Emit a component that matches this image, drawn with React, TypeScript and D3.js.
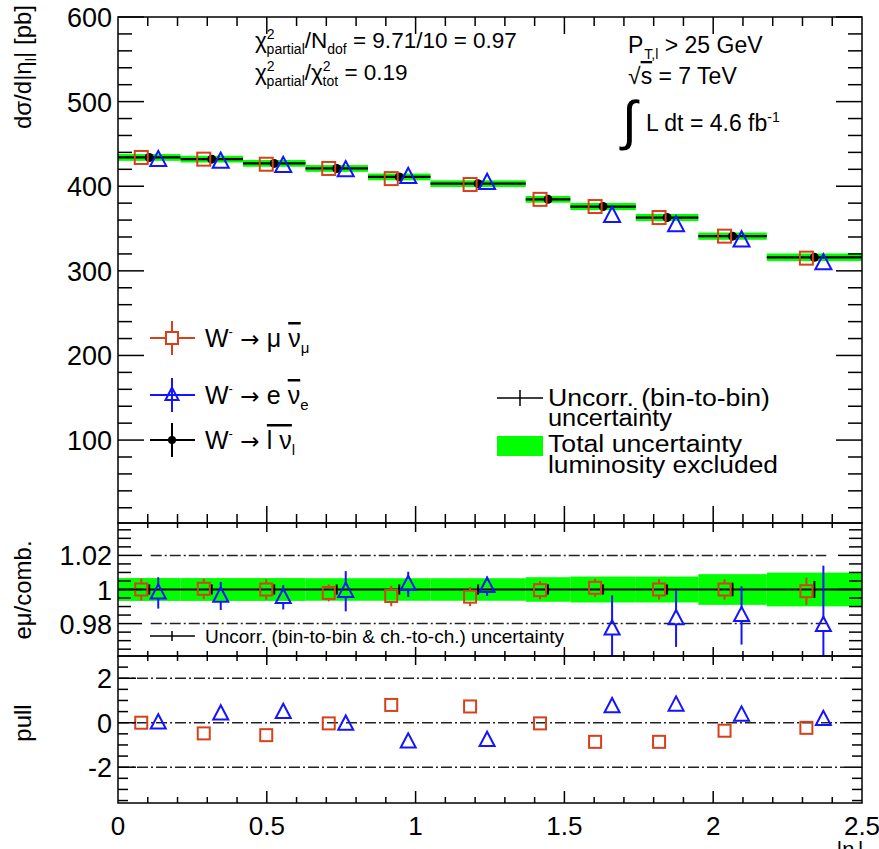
import React from 'react';
import * as d3 from 'd3';

// |eta_l| bin edges (ATLAS W- differential cross section)
const binEdges = [0, 0.21, 0.42, 0.63, 0.84, 1.05, 1.37, 1.52, 1.74, 1.95, 2.18, 2.5];

// dsigma/d|eta| [pb]
const combXsec = [434, 432, 427, 421, 411, 403, 384.5, 376, 363, 341, 316];
const muonXsec = [434, 432, 426, 421, 409, 402, 384.5, 376, 363, 341, 315];
const elecXsec = [431, 429, 424, 419, 411, 404, null, 365, 354, 336, 309];
const combTotalUnc = [4, 4, 4, 4, 4, 4, 4, 4.2, 4.2, 4.3, 4.5];

// ratio panel (channel / combined)
const ratioBand = [0.0067, 0.0067, 0.0067, 0.0066, 0.0066, 0.0066, 0.0072, 0.0076, 0.0076, 0.009, 0.0099];
const ratioUncorr = [0.003, 0.003, 0.003, 0.003, 0.003, 0.003, 0.003, 0.003, 0.003, 0.004, 0.005];
const muonRatio = [1.0, 1.0004, 1.0, 0.998, 0.9962, 0.9958, 0.9996, 1.001, 1.0, 1.0, 0.999];
const muonRatioErr = [0.0065, 0.006, 0.006, 0.005, 0.006, 0.0056, 0.0054, 0.0053, 0.006, 0.006, 0.008];
const elecRatio = [0.998, 0.9962, 0.9954, 0.999, 1.003, 1.0019, null, 0.977, 0.983, 0.9848, 0.979];
const elecRatioErr = [0.0092, 0.0082, 0.0071, 0.0118, 0.0074, 0.0057, null, 0.0196, 0.0167, 0.0171, 0.035];

// pulls
const muonPull = [0.0, -0.48, -0.56, -0.03, 0.8, 0.73, -0.03, -0.86, -0.86, -0.36, -0.23];
const elecPull = [0.0, 0.4, 0.47, -0.06, -0.86, -0.79, null, 0.73, 0.8, 0.35, 0.15];

// axis tick labels
const topYLabels = [100, 200, 300, 400, 500, 600];
const ratioYLabels = [0.98, 1, 1.02];
const pullYLabels = [-2, 0, 2];
const xLabels = [0, 0.5, 1, 1.5, 2, 2.5];

const FONT = '"Liberation Sans", Arial, Helvetica, sans-serif';
const ARROW_FONT = '"DejaVu Sans", sans-serif';
const MU = '#d6401a';
const EL = '#1414ff';
const GREEN = '#00ff00';
const DASH = '11,3,2,3';

const X0 = 118, X1 = 862;
const TOP0 = 17, TOP1 = 523, RAT1 = 656, PUL1 = 803;

const x = d3.scaleLinear().domain([0, 2.5]).range([X0, X1]);
const yTop = d3.scaleLinear().domain([2, 600]).range([TOP1, TOP0]);
const yRat = d3.scaleLinear().domain([0.961, 1.039]).range([RAT1, TOP1]);
const yPull = d3.scaleLinear().domain([-3.61, 3]).range([PUL1, RAT1]);

const MU_DX = -8, EL_DX = 9;

const bins = binEdges.slice(0, -1).map((lo, i) => ({ i, lo, hi: binEdges[i + 1], c: (lo + binEdges[i + 1]) / 2 }));

function Square({ cx, cy, s, color }) {
  return <rect x={cx - s / 2} y={cy - s / 2} width={s} height={s} fill="none" stroke={color} strokeWidth={2} />;
}

function Triangle({ cx, cy, s, color }) {
  const h = s * 0.95;
  const pts = [[cx, cy - h * 0.6], [cx - s / 2, cy + h * 0.4], [cx + s / 2, cy + h * 0.4]];
  return <polygon points={pts.map(p => p.join(',')).join(' ')} fill="none" stroke={color} strokeWidth={2} />;
}

// vertical error bar that skips the marker body
function ErrBar({ cx, y1, y2, cy, gap, color }) {
  return (
    <g stroke={color} strokeWidth={2}>
      {y1 < cy - gap && <line x1={cx} x2={cx} y1={y1} y2={cy - gap} />}
      {y2 > cy + gap && <line x1={cx} x2={cx} y1={cy + gap} y2={y2} />}
    </g>
  );
}

function YTicks({ scale, values, isMajor, major, minor }) {
  return (
    <g stroke="#000" strokeWidth={1.5}>
      {values.map((v, k) => {
        const y = scale(v);
        const len = isMajor(v) ? major : minor;
        return (
          <g key={k}>
            <line x1={X0} x2={X0 + len} y1={y} y2={y} />
            <line x1={X1 - len} x2={X1} y1={y} y2={y} />
          </g>
        );
      })}
    </g>
  );
}

function XTicks({ y, dir, major, minor }) {
  const vals = d3.range(1, 25).map(i => i / 10);
  return (
    <g stroke="#000" strokeWidth={1.5}>
      {vals.map((v, k) => {
        const len = Math.abs(v * 2 - Math.round(v * 2)) < 1e-6 ? major : minor;
        return <line key={k} x1={x(v)} x2={x(v)} y1={y} y2={y + dir * len} />;
      })}
    </g>
  );
}

function Arrow() {
  return <tspan fontFamily={ARROW_FONT} fontSize={23}> → </tspan>;
}

export default function App() {
  const topMinor = d3.range(20, 601, 20);
  const ratMinor = d3.range(-7, 8).map(i => 1 + i * 0.005);
  const pullMinor = d3.range(-7, 6).map(i => i * 0.5);
  const sup = { fontSize: 14 };

  return (
    <svg width={879} height={849} viewBox="0 0 879 849" style={{ display: 'block', position: 'absolute', left: 0, top: 0, background: '#fff' }} fontFamily={FONT}>
      <rect width={879} height={849} fill="#fff" />
      <defs>
        <clipPath id="ratClip"><rect x={X0} y={TOP1} width={X1 - X0} height={RAT1 - TOP1} /></clipPath>
      </defs>

      {/* ---------- top panel ---------- */}
      {bins.map(b => (
        <rect key={'g' + b.i} x={x(b.lo)} width={x(b.hi) - x(b.lo)}
          y={yTop(combXsec[b.i] + combTotalUnc[b.i])}
          height={yTop(combXsec[b.i] - combTotalUnc[b.i]) - yTop(combXsec[b.i] + combTotalUnc[b.i])}
          fill={GREEN} />
      ))}
      {bins.map(b => (
        <line key={'l' + b.i} x1={x(b.lo)} x2={x(b.hi)} y1={yTop(combXsec[b.i])} y2={yTop(combXsec[b.i])} stroke="#000" strokeWidth={2.2} />
      ))}
      {bins.map(b => (
        <circle key={'c' + b.i} cx={x(b.c)} cy={yTop(combXsec[b.i])} r={4.5} fill="#000" />
      ))}
      {bins.map(b => <Square key={'m' + b.i} cx={x(b.c) + MU_DX} cy={yTop(muonXsec[b.i])} s={13} color={MU} />)}
      {bins.filter(b => elecXsec[b.i] != null).map(b => (
        <Triangle key={'e' + b.i} cx={x(b.c) + EL_DX} cy={yTop(elecXsec[b.i])} s={16} color={EL} />
      ))}

      <YTicks scale={yTop} values={topMinor} isMajor={v => v % 100 === 0} major={26} minor={14} />
      <XTicks y={TOP0} dir={1} major={17} minor={9} />
      <XTicks y={TOP1} dir={-1} major={17} minor={9} />
      {topYLabels.map(v => (
        <text key={v} x={X0 - 6} y={yTop(v) + 10} textAnchor="end" fontSize={27}>{v}</text>
      ))}
      <text transform="translate(31,5) rotate(-90)" textAnchor="end" fontSize={24}>
        dσ/d|η<tspan fontSize={15} dy={5}>l</tspan><tspan dy={-5}>| [pb]</tspan>
      </text>

      {/* annotations */}
      <text x={255} y={48} fontSize={22.5}>
        χ<tspan {...sup} dy={-9}>2</tspan><tspan {...sup} dx={-8} dy={15}>partial</tspan>
        <tspan dy={-6}>/N</tspan><tspan {...sup} dy={6}>dof</tspan>
        <tspan dy={-6}> = 9.71/10 = 0.97</tspan>
      </text>
      <text x={255} y={80} fontSize={22.5}>
        χ<tspan {...sup} dy={-9}>2</tspan><tspan {...sup} dx={-8} dy={15}>partial</tspan>
        <tspan dy={-6}>/χ</tspan><tspan {...sup} dy={-9}>2</tspan><tspan {...sup} dx={-8} dy={15}>tot</tspan>
        <tspan dy={-6}> = 0.19</tspan>
      </text>
      <text x={628} y={53} fontSize={23}>
        P<tspan {...sup} dx={1} dy={6}>T,l</tspan><tspan dy={-6}> &gt; 25 GeV</tspan>
      </text>
      <text x={628} y={84} fontSize={23}>
        √<tspan style={{ textDecoration: 'overline' }}>s</tspan> = 7 TeV
      </text>
      <text x={622} y={139} fontSize={54}>∫</text>
      <text x={646} y={131} fontSize={23}>
        L dt = 4.6 fb<tspan {...sup} dy={-9}>-1</tspan>
      </text>

      {/* left legend */}
      {[
        { y: 338, kind: 'mu' },
        { y: 395, kind: 'el' },
        { y: 440, kind: 'comb' },
      ].map(({ y, kind }) => {
        const color = kind === 'mu' ? MU : kind === 'el' ? EL : '#000';
        return (
          <g key={kind}>
            <line x1={150} x2={195} y1={y} y2={y} stroke={color} strokeWidth={2} />
            <line x1={172} x2={172} y1={y - 17} y2={y + 17} stroke={color} strokeWidth={2} />
            {kind === 'mu' && <rect x={166} y={y - 6} width={12} height={12} fill="#fff" stroke={MU} strokeWidth={2} />}
            {kind === 'el' && <Triangle cx={172} cy={y} s={13} color={EL} />}
            {kind === 'comb' && <circle cx={172} cy={y} r={4} fill="#000" />}
          </g>
        );
      })}
      <text x={205} y={347} fontSize={25}>
        W<tspan fontSize={13} dy={-11}>-</tspan><tspan dy={11}><Arrow /></tspan>{'μ '}
        <tspan style={{ textDecoration: 'overline' }}>ν</tspan><tspan fontSize={15} dy={6}>μ</tspan>
      </text>
      <text x={205} y={404} fontSize={25}>
        W<tspan fontSize={13} dy={-11}>-</tspan><tspan dy={11}><Arrow /></tspan>{'e '}
        <tspan style={{ textDecoration: 'overline' }}>ν</tspan><tspan fontSize={15} dy={6}>e</tspan>
      </text>
      <text x={205} y={449} fontSize={25}>
        W<tspan fontSize={13} dy={-11}>-</tspan><tspan dy={11}><Arrow /></tspan>
        <tspan style={{ textDecoration: 'overline' }}>l ν</tspan><tspan fontSize={15} dy={6}>l</tspan>
      </text>

      {/* right legend */}
      <line x1={497} x2={543} y1={398} y2={398} stroke="#000" strokeWidth={1.5} />
      <line x1={520} x2={520} y1={390} y2={406} stroke="#000" strokeWidth={1.5} />
      <text x={548} y={406} fontSize={23} textLength={222} lengthAdjust="spacingAndGlyphs">Uncorr. (bin-to-bin)</text>
      <text x={548} y={426} fontSize={23} textLength={124} lengthAdjust="spacingAndGlyphs">uncertainty</text>
      <rect x={497} y={436} width={46} height={20} fill={GREEN} />
      <text x={548} y={452} fontSize={23} textLength={194} lengthAdjust="spacingAndGlyphs">Total uncertainty</text>
      <text x={548} y={473} fontSize={23} textLength={230} lengthAdjust="spacingAndGlyphs">luminosity excluded</text>

      {/* ---------- ratio panel ---------- */}
      <g clipPath="url(#ratClip)">
        {bins.map(b => (
          <rect key={'rg' + b.i} x={x(b.lo)} width={x(b.hi) - x(b.lo)}
            y={yRat(1 + ratioBand[b.i])} height={yRat(1 - ratioBand[b.i]) - yRat(1 + ratioBand[b.i])} fill={GREEN} />
        ))}
        {[0.98, 1.02].map(v => (
          <line key={v} x1={x(0.11)} x2={x(2.38)} y1={yRat(v)} y2={yRat(v)} stroke="#222" strokeWidth={1.5} strokeDasharray={DASH} />
        ))}
        <line x1={X0} x2={X1} y1={yRat(1)} y2={yRat(1)} stroke="#000" strokeWidth={2} />
        {bins.map(b => (
          <line key={'ru' + b.i} x1={x(b.c)} x2={x(b.c)} y1={yRat(1 + ratioUncorr[b.i])} y2={yRat(1 - ratioUncorr[b.i])} stroke="#000" strokeWidth={2} />
        ))}
        {bins.map(b => {
          const cx = x(b.c) + MU_DX, cy = yRat(muonRatio[b.i]);
          return (
            <g key={'rm' + b.i}>
              <ErrBar cx={cx} cy={cy} gap={6} y1={yRat(muonRatio[b.i] + muonRatioErr[b.i])} y2={yRat(muonRatio[b.i] - muonRatioErr[b.i])} color={MU} />
              <Square cx={cx} cy={cy} s={12} color={MU} />
            </g>
          );
        })}
        {bins.filter(b => elecRatio[b.i] != null).map(b => {
          const cx = x(b.c) + EL_DX, cy = yRat(elecRatio[b.i]);
          return (
            <g key={'re' + b.i}>
              <ErrBar cx={cx} cy={cy} gap={6} y1={yRat(elecRatio[b.i] + elecRatioErr[b.i])} y2={yRat(elecRatio[b.i] - elecRatioErr[b.i])} color={EL} />
              <Triangle cx={cx} cy={cy} s={15} color={EL} />
            </g>
          );
        })}
      </g>
      <line x1={150} x2={195} y1={636} y2={636} stroke="#000" strokeWidth={1.5} />
      <line x1={172} x2={172} y1={631} y2={641} stroke="#000" strokeWidth={1.5} />
      <text x={205} y={643} fontSize={19}>Uncorr. (bin-to-bin &amp; ch.-to-ch.) uncertainty</text>

      <YTicks scale={yRat} values={ratMinor} isMajor={v => ratioYLabels.some(l => Math.abs(l - v) < 1e-6)} major={24} minor={13} />
      <XTicks y={TOP1} dir={1} major={9} minor={5} />
      <XTicks y={RAT1} dir={-1} major={9} minor={5} />
      {ratioYLabels.map(v => (
        <text key={v} x={X0 - 6} y={yRat(v) + 10} textAnchor="end" fontSize={27}>{String(v)}</text>
      ))}
      <text transform="translate(31,590) rotate(-90)" textAnchor="middle" fontSize={24}>eμ/comb.</text>

      {/* ---------- pull panel ---------- */}
      {pullYLabels.map(v => (
        <line key={v} x1={X0} x2={x(2.44)} y1={yPull(v)} y2={yPull(v)} stroke="#222" strokeWidth={1.5} strokeDasharray={DASH} />
      ))}
      {bins.map(b => <Square key={'pm' + b.i} cx={x(b.c) + MU_DX} cy={yPull(muonPull[b.i])} s={12} color={MU} />)}
      {bins.filter(b => elecPull[b.i] != null).map(b => (
        <Triangle key={'pe' + b.i} cx={x(b.c) + EL_DX} cy={yPull(elecPull[b.i])} s={15} color={EL} />
      ))}
      <YTicks scale={yPull} values={pullMinor} isMajor={v => v % 2 === 0} major={18} minor={10} />
      <XTicks y={RAT1} dir={1} major={9} minor={5} />
      <XTicks y={PUL1} dir={-1} major={12} minor={6} />
      {pullYLabels.map(v => (
        <text key={v} x={X0 - 6} y={yPull(v) + 10} textAnchor="end" fontSize={27}>{v}</text>
      ))}
      <text transform="translate(31,723) rotate(-90)" textAnchor="middle" fontSize={24}>pull</text>

      {xLabels.map(v => (
        <text key={v} x={x(v)} y={835} textAnchor="middle" fontSize={26}>{String(v)}</text>
      ))}
      <text x={850} y={857} textAnchor="middle" fontSize={22}>|η<tspan fontSize={14} dy={5}>l</tspan><tspan dy={-5}>|</tspan></text>

      {/* frames */}
      <g fill="none" stroke="#000" strokeWidth={1.5}>
        <rect x={X0} y={TOP0} width={X1 - X0} height={TOP1 - TOP0} />
        <rect x={X0} y={TOP1} width={X1 - X0} height={RAT1 - TOP1} />
        <rect x={X0} y={RAT1} width={X1 - X0} height={PUL1 - RAT1} />
      </g>
    </svg>
  );
}
